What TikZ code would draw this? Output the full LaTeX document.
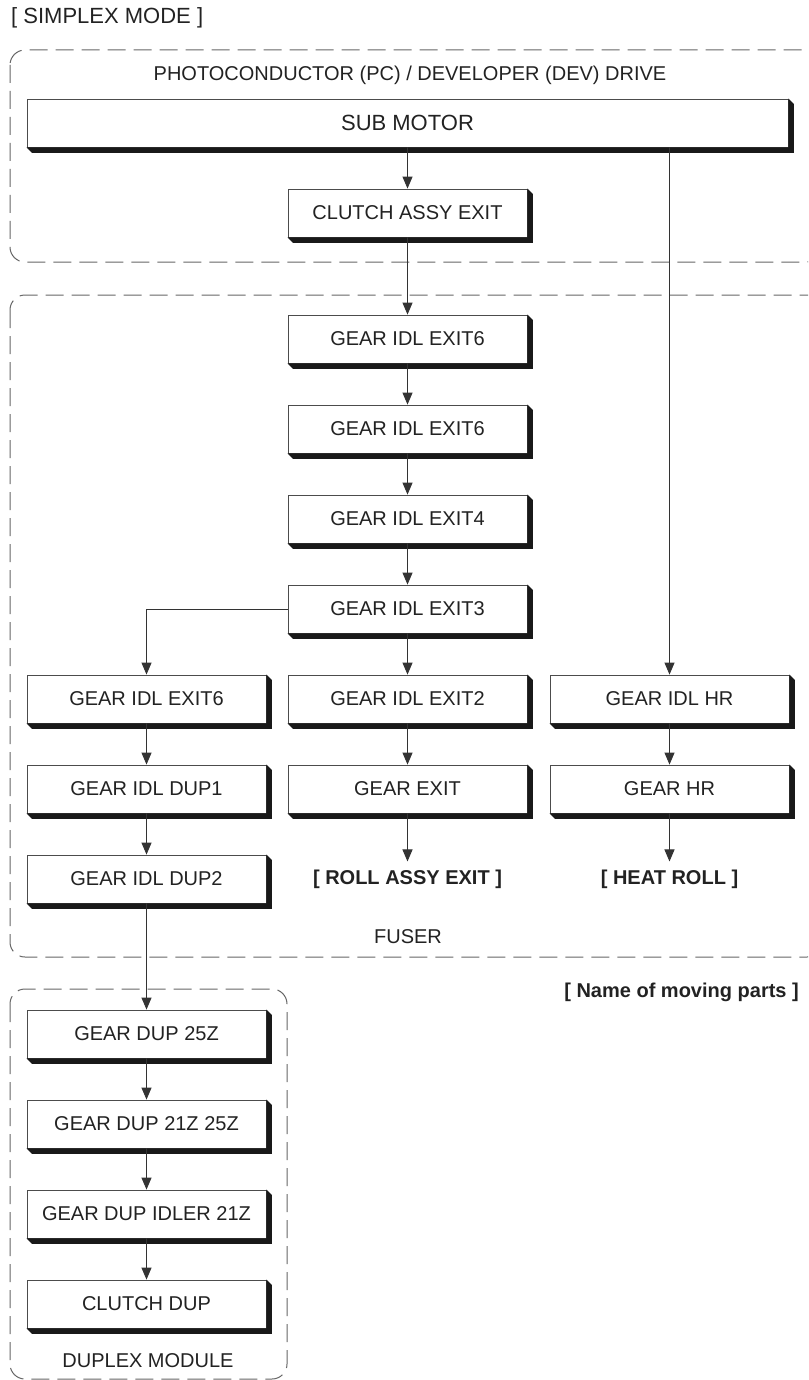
\documentclass[tikz,border=0pt]{standalone}
\usepackage{fontspec}
\setmainfont{Liberation Sans}
\usetikzlibrary{arrows.meta}
\definecolor{ink}{HTML}{222222}
\tikzset{
  part/.style={draw=black!70, line width=0.8pt, fill=white, minimum width=239pt, minimum height=48pt, inner sep=0pt, text=ink, font=\fontsize{20}{24}\selectfont},
  grp/.style={draw=black!60, line width=1pt, dash pattern=on 18pt off 8pt, rounded corners=15pt},
  lbl/.style={text=ink, font=\fontsize{20}{24}\selectfont, inner sep=0pt},
  blbl/.style={text=ink, font=\fontsize{20}{24}\selectfont\bfseries, inner sep=0pt},
  arr/.style={draw=black!80, line width=1pt, -{Triangle[length=12pt,width=10pt]}},
  conn/.style={draw=black!80, line width=1pt},
}
\newcommand{\shd}[1]{%
  \fill[black!90] (#1.south west) -- ([shift={(5.5pt,-5.5pt)}]#1.south west) -- ([shift={(5.5pt,-5.5pt)}]#1.south east) -- ([shift={(5.5pt,-5.5pt)}]#1.north east) -- (#1.north east) -- (#1.south east) -- cycle;}
\begin{document}
\begin{tikzpicture}[x=1pt,y=-1pt]
\useasboundingbox (0,0) rectangle (808,1380);
\clip (0,0) rectangle (808,1380);
% title
\node[lbl, font=\fontsize{22}{26}\selectfont, anchor=west] (title) at (11,18) {[ SIMPLEX MODE ]};
% groups
\draw[grp] (10,50) rectangle (822,262);
\draw[grp] (10,295) rectangle (822,957);
\draw[grp] (10,989) rectangle (287,1379);
\node[lbl] (gpc) at (410,75) {PHOTOCONDUCTOR (PC) / DEVELOPER (DEV) DRIVE};
\node[lbl] (gfuser) at (408,937) {FUSER};
\node[lbl] (gdup) at (148,1361) {DUPLEX MODULE};
\node[blbl, anchor=east] (legend) at (799,992) {[ Name of moving parts ]};
% parts
\node[part, minimum width=761pt, font=\fontsize{22}{26}\selectfont] (sub) at (407.5,123) {SUB MOTOR};
\node[part] (cae) at (407.5,213) {CLUTCH ASSY EXIT};
\node[part] (m1) at (407.5,339) {GEAR IDL EXIT6};
\node[part] (m2) at (407.5,429) {GEAR IDL EXIT6};
\node[part] (m3) at (407.5,519) {GEAR IDL EXIT4};
\node[part] (m4) at (407.5,609) {GEAR IDL EXIT3};
\node[part] (m5) at (407.5,699) {GEAR IDL EXIT2};
\node[part] (m6) at (407.5,789) {GEAR EXIT};
\node[part] (l1) at (146.5,699) {GEAR IDL EXIT6};
\node[part] (l2) at (146.5,789) {GEAR IDL DUP1};
\node[part] (l3) at (146.5,879) {GEAR IDL DUP2};
\node[part] (r1) at (669.5,699) {GEAR IDL HR};
\node[part] (r2) at (669.5,789) {GEAR HR};
\node[part] (d1) at (146.5,1034) {GEAR DUP 25Z};
\node[part] (d2) at (146.5,1124) {GEAR DUP 21Z 25Z};
\node[part] (d3) at (146.5,1214) {GEAR DUP IDLER 21Z};
\node[part] (d4) at (146.5,1304) {CLUTCH DUP};
\foreach \n in {sub,cae,m1,m2,m3,m4,m5,m6,l1,l2,l3,r1,r2,d1,d2,d3,d4}{\shd{\n}}
\node[blbl] (roll) at (407.5,879) {[ ROLL ASSY EXIT ]};
\node[blbl] (heat) at (669.5,879) {[ HEAT ROLL ]};
% connectors
\draw[arr] (sub.south -| cae.north) -- (cae.north);
\draw[arr] (cae.south) -- (m1.north);
\draw[arr] (m1.south) -- (m2.north);
\draw[arr] (m2.south) -- (m3.north);
\draw[arr] (m3.south) -- (m4.north);
\draw[arr] (m4.south) -- (m5.north);
\draw[arr] (m5.south) -- (m6.north);
\draw[arr, shorten >=8pt] (m6.south) -- (roll.north);
\draw[arr] (m4.west) -| (l1.north);
\draw[arr] (l1.south) -- (l2.north);
\draw[arr] (l2.south) -- (l3.north);
\draw[arr] (l3.south) -- (d1.north);
\draw[arr] (d1.south) -- (d2.north);
\draw[arr] (d2.south) -- (d3.north);
\draw[arr] (d3.south) -- (d4.north);
\draw[arr] (sub.south -| r1.north) -- (r1.north);
\draw[arr] (r1.south) -- (r2.north);
\draw[arr, shorten >=8pt] (r2.south) -- (heat.north);
\end{tikzpicture}
\end{document}
